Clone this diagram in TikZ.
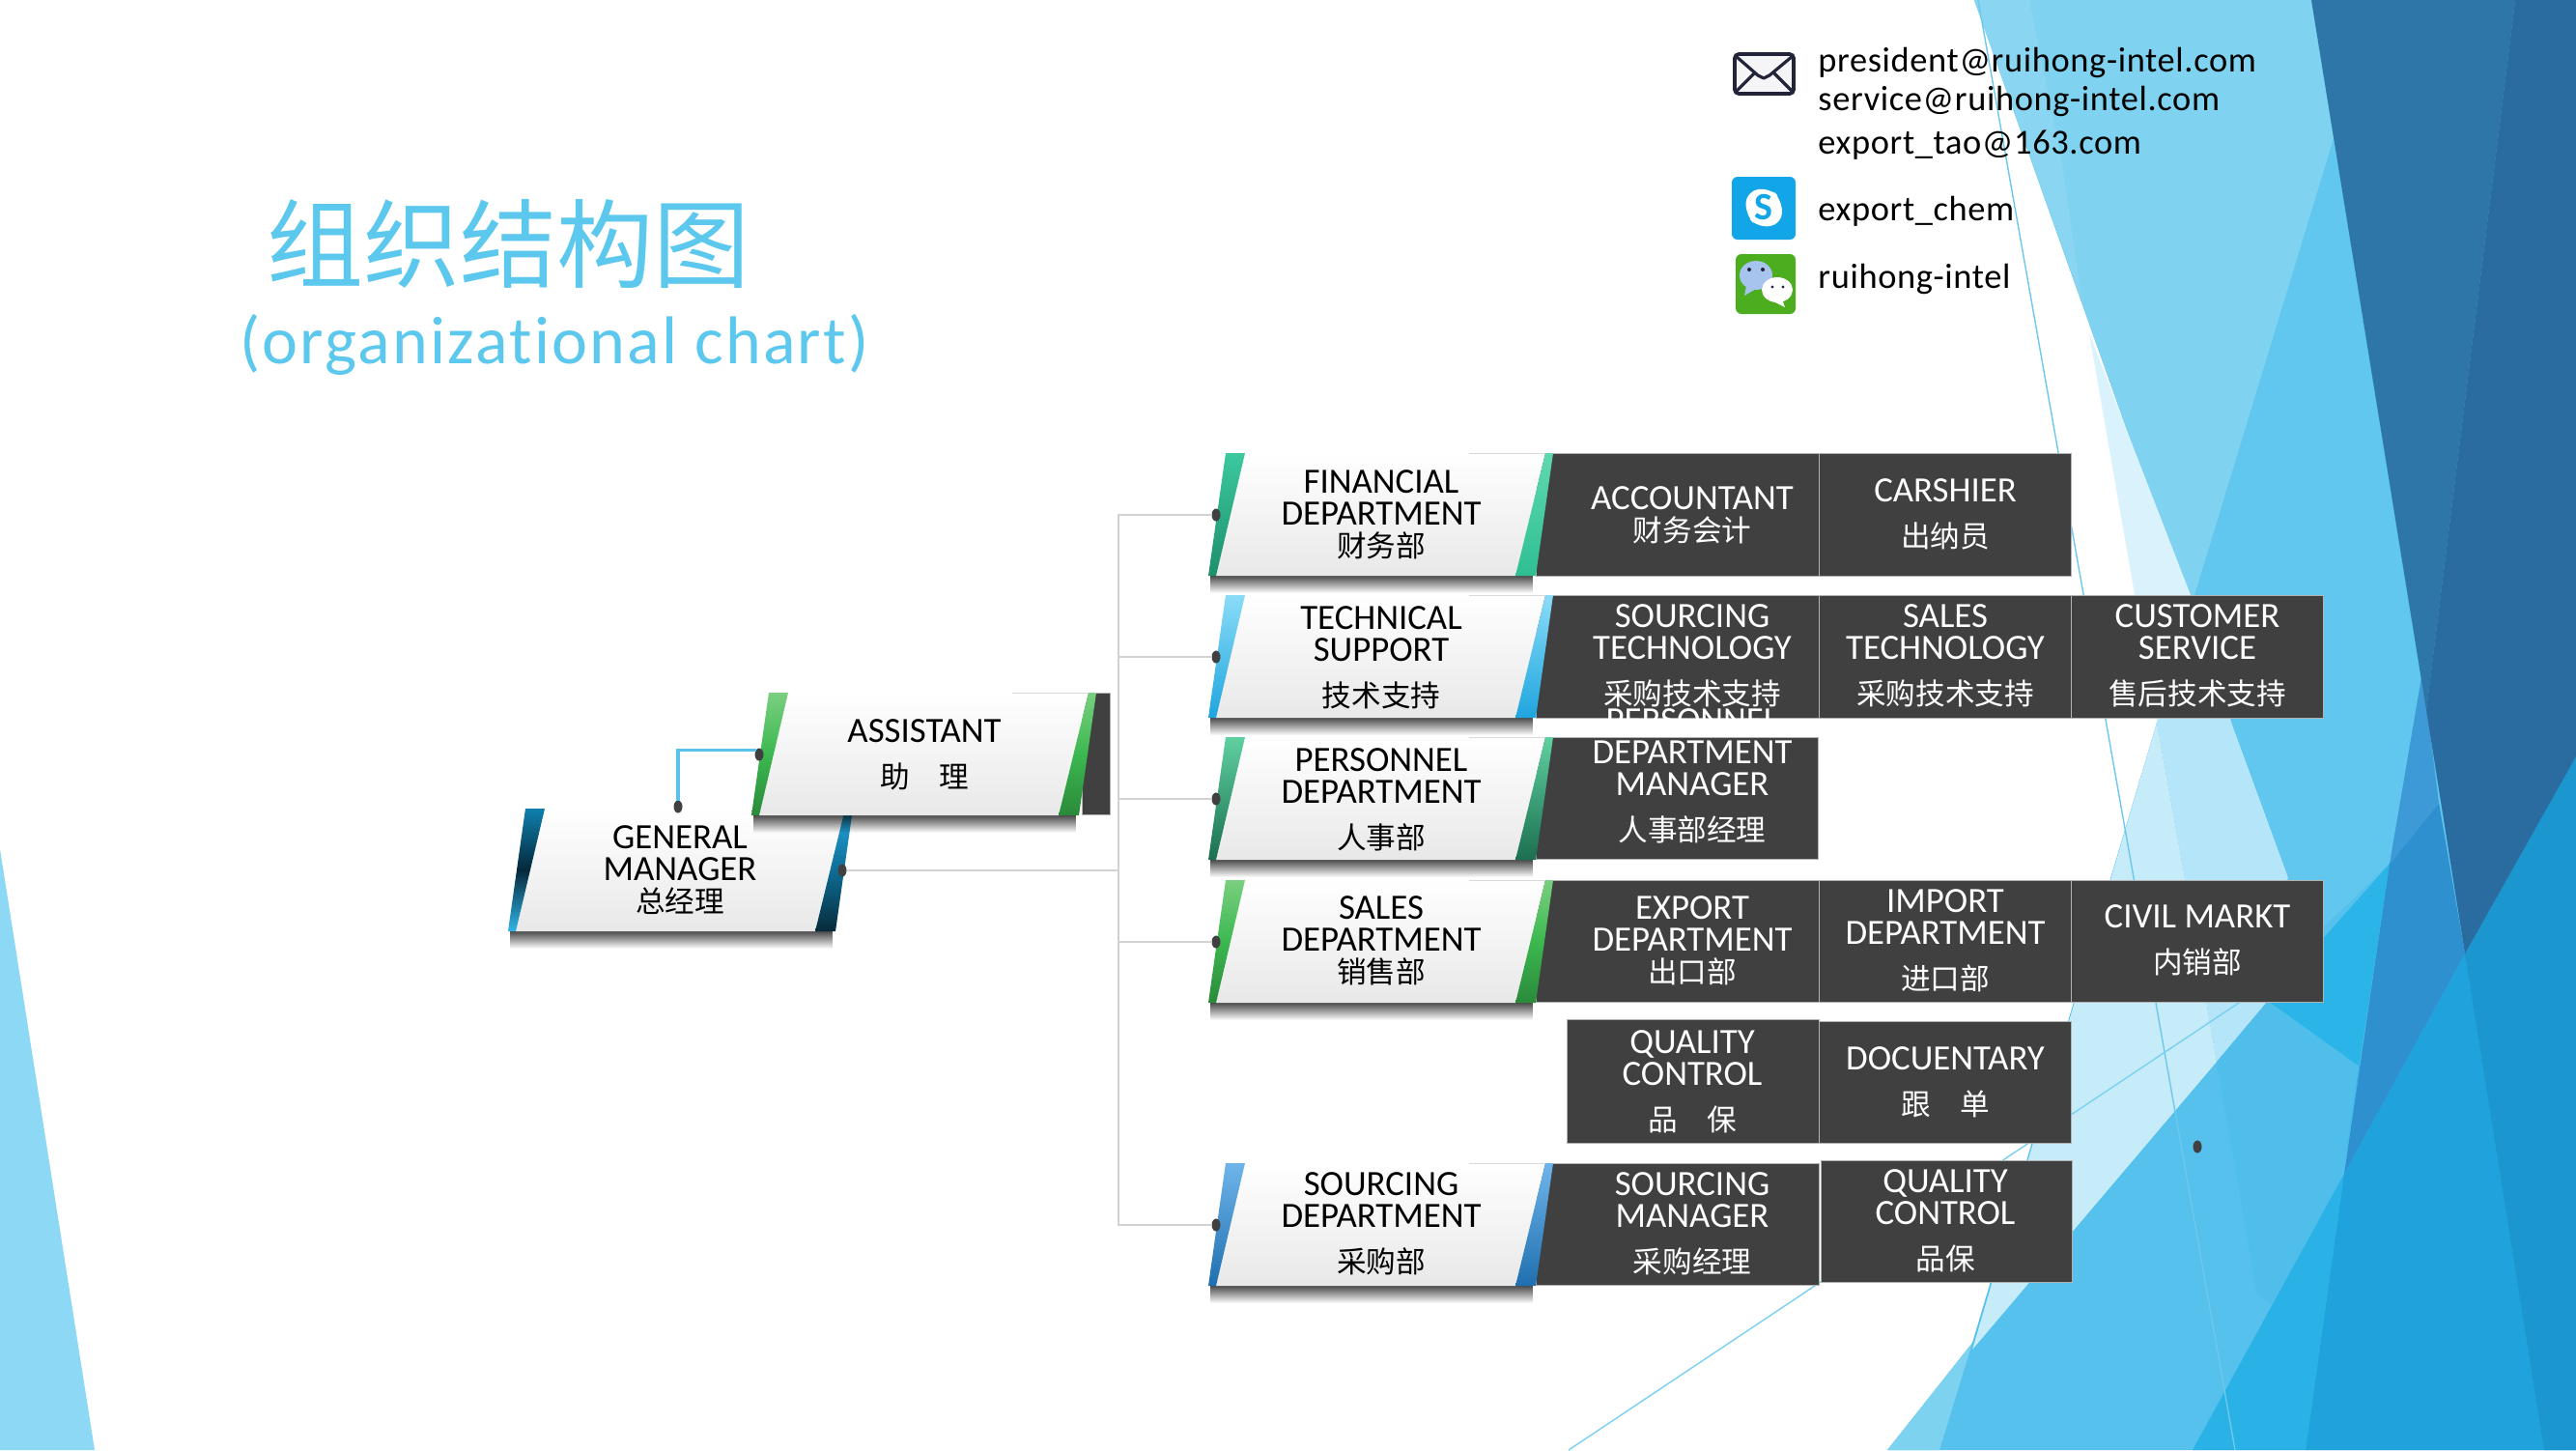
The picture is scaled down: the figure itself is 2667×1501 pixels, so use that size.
\documentclass[tikz,border=0pt]{standalone}
\usepackage{fontspec}
\setmainfont{Carlito}[Ligatures=NoCommon]
\newfontfamily\cjk{Noto Sans CJK SC}
\newfontfamily\mailfont{Carlito}[LetterSpace=1.8,Ligatures=NoCommon]
\newfontfamily\subfont{Carlito}[LetterSpace=3.2,Ligatures=NoCommon]
\usetikzlibrary{fadings,shapes.geometric}
\newcommand{\zh}[1]{{\cjk\fontsize{15.3}{16.5}\selectfont #1}}
\newcommand{\dc}[1]{\definecolor{h#1}{HTML}{#1}}
\newcommand{\tightlines}{\lineskiplimit=-20pt\relax}
\dc{8DD8F5}\dc{7FD2F0}\dc{8AD6F2}\dc{DAF2FB}\dc{B5E5F8}\dc{C6EBF9}\dc{62C7EE}\dc{55C1EC}\dc{7DD2F0}\dc{50BEEA}\dc{2BB4E8}\dc{2AB2E6}\dc{20A3DC}\dc{1B96CE}\dc{2F90D0}\dc{3E9AD6}\dc{2F76A8}\dc{2A6BA0}\dc{6CC8EC}\dc{7AD0F0}
\dc{404040}\dc{D2D2D2}\dc{5BC3EA}\dc{5CC8EE}
\dc{0F80AE}\dc{30B5E8}\dc{04283A}\dc{25A5DC}\dc{0F6D96}\dc{062B3A}
\dc{7ACF80}\dc{2F9A44}\dc{3CB850}\dc{2A8A3A}
\dc{3CC89E}\dc{1D8F6B}\dc{5FD8B0}\dc{2FBF92}
\dc{8ADCF8}\dc{1FA5DE}
\dc{5FD0A0}\dc{1B6F50}
\dc{6FB5EA}\dc{1F6FB0}
\dc{22253A}\dc{F5F5F7}\dc{12A5E8}\dc{4CAD1F}\dc{A7C4EE}
\tikzset{
  x=.5pt,y=-.5pt,
  thinline/.style={draw=#1,line width=.7pt},
  darkrect/.style={fill=h404040,draw=black!30,line width=.5pt},
  dotn/.style={draw=none,fill=h404040,ellipse,minimum width=4.5pt,minimum height=6.5pt,inner sep=0pt,outer sep=0pt},
  conn/.style={draw=hD2D2D2,line width=1.2pt},
  connb/.style={draw=h5BC3EA,line width=1.8pt},
  ctxt/.style={align=center,text=black,inner sep=0pt,yshift=-.4pt,font=\fontsize{18.4}{16.5}\selectfont\tightlines},
  wtxt/.style={ctxt,text=white},
  mailtxt/.style={anchor=west,inner sep=0pt,font=\mailfont\fontsize{18.2}{20}\selectfont},
}
% #1 name #2 x #3 y #4 left bar shading #5 right accent shading #6 dot x
\newcommand{\deptcard}[6]{%
  \begin{scope}[shift={(#2,#3)}]
    \fill[black,opacity=.7,path fading=south] (2,127) rectangle (336,145);
    \path[top color=white,bottom color=black!9] (38,0) -- (349,0) -- (318,127) -- (8,127) -- cycle;
    \draw[black!15,line width=.4pt] (270,0) -- (349,0);
    \path[#4] (18,0) -- (38,0) -- (8,127) -- (0,127) -- cycle;
    \path[#5] (349,0) -- (357,0) -- (339,127) -- (318,127) -- cycle;
    \node[dotn] (#1dot) at (#6,64) {};
  \end{scope}}
\begin{document}
\begin{tikzpicture}
\useasboundingbox (0,0) rectangle (2667,1501);
\fill[white] (0,0) rectangle (2667,1501);
% ---------- background facets
\fill[h8DD8F5] (0,879) -- (98,1501) -- (0,1501) -- cycle;
\fill[h55C1EC] (2044,0) -- (2263,617) -- (2233,748) -- (2042,1390) -- (1954,1501) -- (2667,1501) -- (2667,0) -- cycle;
\fill[h7FD2F0] (2044,0) -- (2393,0) -- (2416,144) -- (2272,617) -- (2263,617) -- cycle;
\fill[h8AD6F2] (2044,0) -- (2101,0) -- (2135,170) -- (2155,310) -- cycle;
\fill[hDAF2FB] (2163,345) -- (2233,748) -- (2285,660) -- cycle;
\fill[hB5E5F8] (2233,748) -- (2285,650) -- (2311,750) -- (2369,908) -- (2348,1036) -- (2295,1099) -- (2262,909) -- cycle;
\fill[hC6EBF9] (2233,748) -- (2262,909) -- (2295,1099) -- (2042,1397) -- cycle;
\fill[h62C7EE] (2416,144) -- (2552,987) -- (2474,894) -- (2405,960) -- (2348,1036) -- (2369,908) -- (2263,617) -- (2272,617) -- cycle;
\fill[h7DD2F0] (1954,1501) -- (2042,1390) -- (2008,1501) -- cycle;
\fill[h50BEEA] (2295,1099) -- (2337,1340) -- (2385,1370) -- (2427,1215) -- (2443,1104) -- (2348,1036) -- cycle;
\fill[h2BB4E8] (2474,894) -- (2348,1036) -- (2443,1104) -- (2429,1193) -- cycle;
\fill[h2AB2E6] (2270,1501) -- (2427,1215) -- (2387,1501) -- cycle;
\fill[h20A3DC] (2387,1501) -- (2427,1215) -- (2552,987) -- (2667,783) -- (2667,1501) -- cycle;
\fill[h1B96CE] (2552,987) -- (2667,783) -- (2667,1501) -- (2634,1501) -- cycle;
\fill[h2F90D0] (2474,894) -- (2525,831) -- (2552,987) -- (2427,1215) -- cycle;
\fill[h3E9AD6] (2508,695) -- (2474,894) -- (2525,831) -- cycle;
\fill[h2F76A8] (2393,0) -- (2604,0) -- (2512,735) -- cycle;
\fill[h2A6BA0] (2604,0) -- (2667,0) -- (2667,783) -- (2552,987) -- (2512,735) -- cycle;
\coordinate (tA) at (2048,0); \coordinate (tB) at (2314,1501);
\coordinate (tC) at (1624,1501); \coordinate (tD) at (2348,1018);
\draw[thinline=h6CC8EC] (tA) -- (tB);
\draw[thinline=h7AD0F0] (tC) -- (tD);
% ---------- dark boxes
\path[darkrect] (1120,717) rectangle (1149,843);
\path[darkrect] (1590,469) rectangle (1883,596);
\path[darkrect] (1883,469) rectangle (2144,596);
\path[darkrect] (1590,616) rectangle (1883,743);
\path[darkrect] (1883,616) rectangle (2144,743);
\path[darkrect] (2144,616) rectangle (2405,743);
\path[darkrect] (1590,763) rectangle (1882,889);
\path[darkrect] (1590,911) rectangle (1883,1037);
\path[darkrect] (1883,911) rectangle (2144,1037);
\path[darkrect] (2144,911) rectangle (2405,1037);
\path[darkrect] (1622,1055) rectangle (1883,1183);
\path[darkrect] (1883,1057) rectangle (2144,1183);
\path[darkrect] (1590,1204) rectangle (1883,1330);
\path[darkrect] (1885,1201) rectangle (2145,1327);
% ---------- cards
\deptcard{gm}{526}{837}{top color=h0F80AE,bottom color=h30B5E8,middle color=h04283A}{top color=h25A5DC,bottom color=h062B3A,middle color=h0F6D96}{346}
\deptcard{ast}{778}{717}{top color=h7ACF80,bottom color=h2A8A3A,middle color=h3CB850}{top color=h7ACF80,bottom color=h2A8A3A,middle color=h3CB850}{8}
\deptcard{fin}{1251}{469}{top color=h3CC89E,bottom color=h1D8F6B}{top color=h5FD8B0,bottom color=h2FBF92}{8}
\deptcard{tech}{1251}{616}{top color=h8ADCF8,bottom color=h1FA5DE}{top color=h8ADCF8,bottom color=h1FA5DE}{8}
\deptcard{pers}{1251}{763}{top color=h5FD0A0,bottom color=h1B6F50}{top color=h5FD0A0,bottom color=h1B6F50}{8}
\deptcard{sales}{1251}{911}{top color=h7ACF80,bottom color=h2A8A3A,middle color=h3CB850}{top color=h7ACF80,bottom color=h2A8A3A,middle color=h3CB850}{8}
\deptcard{src}{1251}{1204}{top color=h6FB5EA,bottom color=h1F6FB0}{top color=h6FB5EA,bottom color=h1F6FB0}{8}
% ---------- connectors
\node[dotn] (gmtop) at (702,835) {};
\coordinate (trunk) at (1158,901);
\draw[conn] (gmdot) -- (trunk);
\draw[conn] (findot) -| (trunk);
\draw[conn] (techdot) -| (trunk);
\draw[conn] (persdot) -| (trunk);
\draw[conn] (salesdot) -| (trunk);
\draw[conn] (srcdot) -| (trunk);
\draw[connb] (gmtop.north) |- (astdot.north west);
\node[dotn] (stray) at (2275,1187) {};
% ---------- card text
\node[ctxt] (tGM) at (704,900) {GENERAL\\MANAGER\\\zh{总经理}};
\node[ctxt] (tAST) at (957,780) {ASSISTANT\\[7pt]\zh{助　理}};
\node[ctxt] (tFIN) at (1430,532) {FINANCIAL\\DEPARTMENT\\\zh{财务部}};
\node[ctxt] (tTECH) at (1430,680) {TECHNICAL\\SUPPORT\\[7pt]\zh{技术支持}};
\node[ctxt] (tPERS) at (1430,827) {PERSONNEL\\DEPARTMENT\\[7pt]\zh{人事部}};
\node[ctxt] (tSALES) at (1430,973) {SALES\\DEPARTMENT\\\zh{销售部}};
\node[ctxt] (tSRC) at (1430,1266) {SOURCING\\DEPARTMENT\\[7pt]\zh{采购部}};
% ---------- dark box text
\node[wtxt] (a1) at (1752,532) {ACCOUNTANT\\\zh{财务会计}};
\node[wtxt] (a2) at (2014,532) {CARSHIER\\[7pt]\zh{出纳员}};
\node[wtxt] (b1) at (1752,678) {SOURCING\\TECHNOLOGY\\[7pt]\zh{采购技术支持}};
\node[wtxt] (b2) at (2014,678) {SALES\\TECHNOLOGY\\[7pt]\zh{采购技术支持}};
\node[wtxt] (b3) at (2275,678) {CUSTOMER\\SERVICE\\[7pt]\zh{售后技术支持}};
\node[wtxt] (c1) at (1752,803) {PERSONNEL\\DEPARTMENT\\MANAGER\\[7pt]\zh{人事部经理}};
\node[wtxt] (d1) at (1752,973) {EXPORT\\DEPARTMENT\\\zh{出口部}};
\node[wtxt] (d2) at (2014,973) {IMPORT\\DEPARTMENT\\[7pt]\zh{进口部}};
\node[wtxt] (d3) at (2275,972) {CIVIL MARKT\\[7pt]\zh{内销部}};
\node[wtxt] (e1) at (1752,1119) {QUALITY\\CONTROL\\[7pt]\zh{品　保}};
\node[wtxt] (e2) at (2014,1119) {DOCUENTARY\\[7pt]\zh{跟　单}};
\node[wtxt] (f1) at (1752,1266) {SOURCING\\MANAGER\\[7pt]\zh{采购经理}};
\node[wtxt] (f2) at (2014,1263) {QUALITY\\CONTROL\\[7pt]\zh{品保}};
% ---------- title
\node[inner sep=0pt,text=h5CC8EE,font=\cjk\fontsize{50}{55}\selectfont] (title) at (526,252) {组织结构图};
\node[inner sep=0pt,text=h5CC8EE,font=\subfont\fontsize{35}{40}\selectfont] (subtitle) at (574,357) {(organizational chart)};
% ---------- contact
\node[mailtxt] (m1) at (1882,65) {president@ruihong-intel.com};
\node[mailtxt] (m2) at (1882,105) {service@ruihong-intel.com};
\node[mailtxt] (m3) at (1882,150) {export\_tao@163.com};
\node[mailtxt] (m4) at (1882,219) {export\_chem};
\node[mailtxt] (m5) at (1882,289) {ruihong-intel};
% mail icon
\draw[draw=h22253A,fill=hF5F5F7,line width=1.8pt,rounded corners=2pt] (1796,56) rectangle (1857,97);
\draw[draw=h22253A,line width=1.6pt,line join=round] (1797,58) -- (1820,78) -- (1826,81) -- (1832,78) -- (1856,58);
\draw[draw=h22253A,line width=1.6pt] (1797,95) -- (1817,75) (1856,95) -- (1836,75);
% skype icon
\fill[h12A5E8,rounded corners=3pt] (1793,183) rectangle (1859,248);
\fill[white,rounded corners=6pt] (1808,198) -- (1832,194) -- (1845,207) -- (1845,232) -- (1820,236) -- (1807,222) -- cycle;
\node[inner sep=0pt,text=h12A5E8,font=\bfseries\fontsize{20}{20}\selectfont] (skypeS) at (1826,215) {S};
% wechat icon
\fill[h4CAD1F,rounded corners=3pt] (1797,263) rectangle (1859,325);
\fill[hA7C4EE] (1818,285) ellipse [x radius=17,y radius=15];
\fill[hA7C4EE] (1808,296) -- (1806,306) -- (1818,299) -- cycle;
\fill[white] (1840,300) ellipse [x radius=16,y radius=13];
\fill[white] (1845,310) -- (1848,318) -- (1836,312) -- cycle;
\fill[h22253A] (1811,279) circle (2) (1825,279) circle (2) (1835,297) circle (1.6) (1846,297) circle (1.6);
\end{tikzpicture}
\end{document}
